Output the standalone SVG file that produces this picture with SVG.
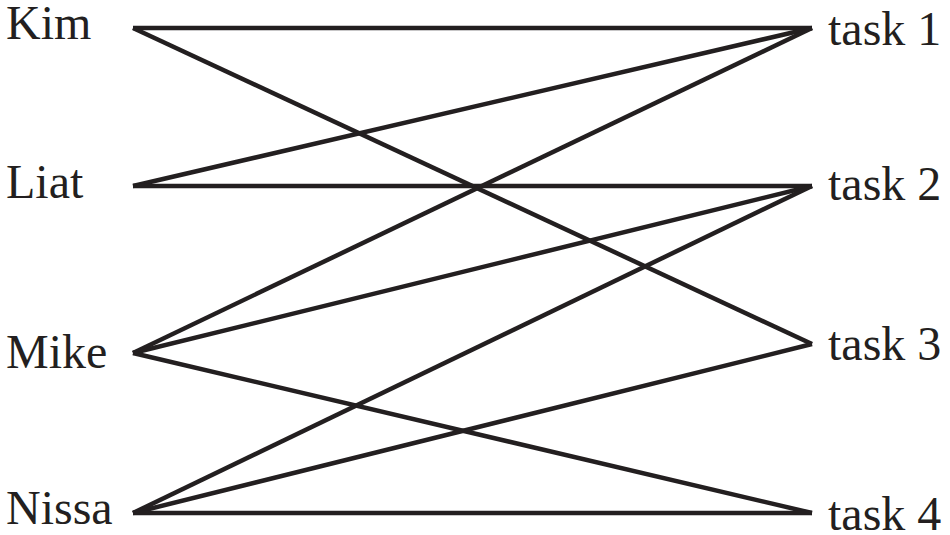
<svg xmlns="http://www.w3.org/2000/svg" width="950" height="535" viewBox="0 0 950 535">
<style>
.lbl{font-family:"Liberation Serif","Times New Roman",serif;font-size:48px;fill:#231f20}
.e{stroke:#231f20;stroke-width:4.5;fill:none;stroke-linecap:butt}
</style>
<rect width="950" height="535" fill="#ffffff"/>
<g id="edges">
<line class="e" x1="133" y1="28" x2="812" y2="28"/>
<line class="e" x1="133" y1="28" x2="812" y2="344"/>
<line class="e" x1="133" y1="186" x2="812" y2="28"/>
<line class="e" x1="133" y1="186" x2="812" y2="186"/>
<line class="e" x1="133" y1="353" x2="812" y2="28"/>
<line class="e" x1="133" y1="353" x2="812" y2="186"/>
<line class="e" x1="133" y1="353" x2="812" y2="513"/>
<line class="e" x1="133" y1="513" x2="812" y2="186"/>
<line class="e" x1="133" y1="513" x2="812" y2="344"/>
<line class="e" x1="133" y1="513" x2="812" y2="513"/>
</g>
<g id="kim"><text class="lbl" x="6" y="39">Kim</text></g>
<g id="liat"><text class="lbl" x="6" y="198">Liat</text></g>
<g id="mike"><text class="lbl" x="6" y="368">Mike</text></g>
<g id="nissa"><text class="lbl" x="6" y="524">Nissa</text></g>
<g id="task1"><text class="lbl" x="828" y="45">task 1</text></g>
<g id="task2"><text class="lbl" x="828" y="200">task 2</text></g>
<g id="task3"><text class="lbl" x="828" y="360">task 3</text></g>
<g id="task4"><text class="lbl" x="828" y="530">task 4</text></g>
</svg>
